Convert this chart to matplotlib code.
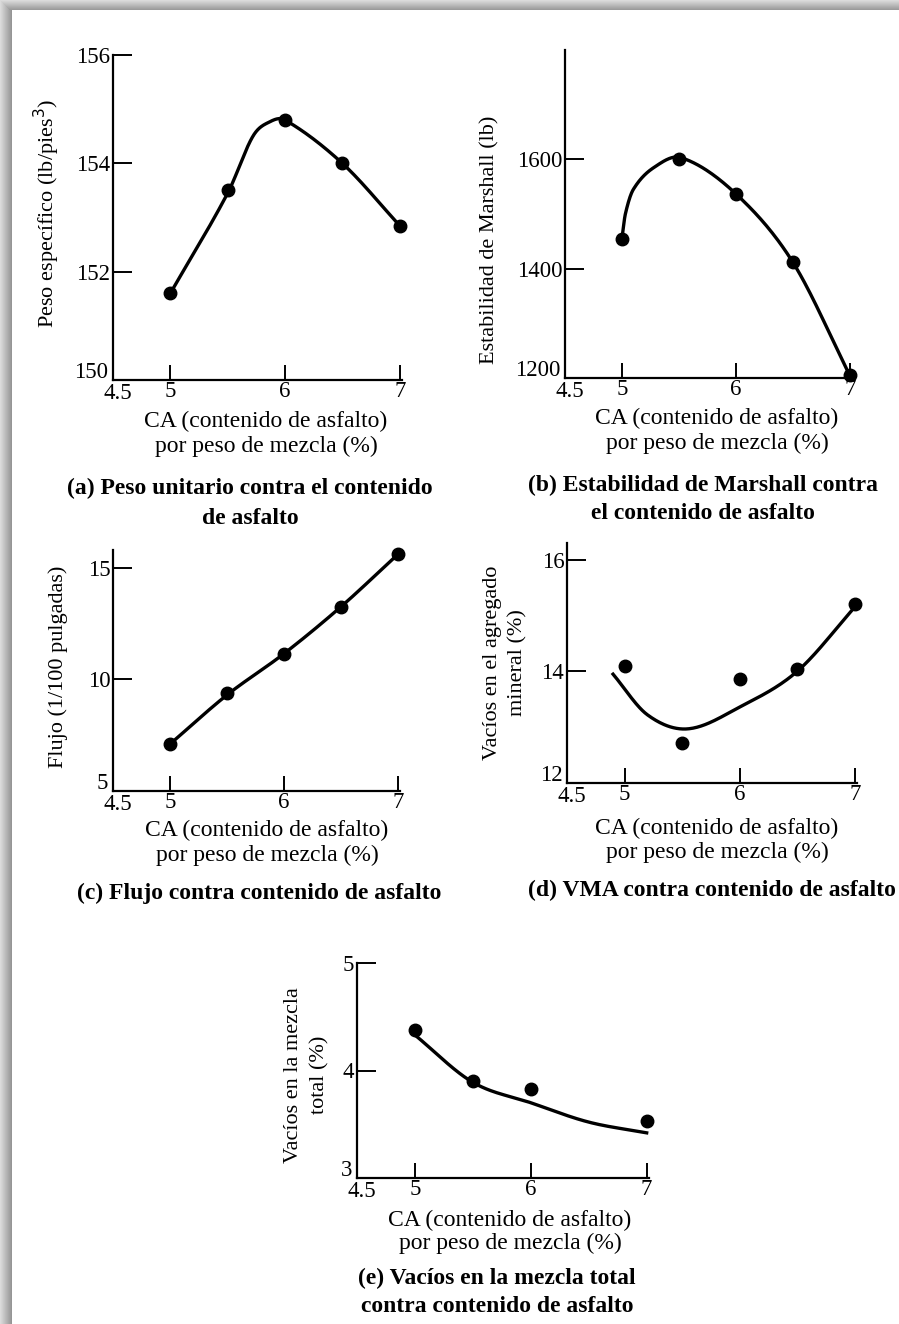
import numpy as np
import matplotlib
matplotlib.use("Agg")
import matplotlib.pyplot as plt
from matplotlib.transforms import ScaledTranslation

plt.rcParams['font.family'] = ['Liberation Serif', 'DejaVu Serif']

# --- datos
ca = [5.0, 5.5, 6.0, 6.5, 7.0]
peso = [151.6, 153.5, 154.8, 154.0, 152.85]
estab = [1455, 1600, 1537, 1412, 1205]
flujo = [7.1, 9.4, 11.15, 13.25, 15.6]
vma = [14.1, 12.72, 13.86, 14.05, 15.2]
vacios = [4.38, 3.9, 3.83, 3.53]
ca_vacios = [5.0, 5.5, 6.0, 7.0]

# puntos de la curva trazada a mano
curva_a_x = [5.0, 5.5, 5.72, 5.87, 6.0, 6.5, 7.0]
curva_a_y = [151.6, 153.45, 154.5, 154.77, 154.8, 154.0, 152.85]
curva_b_x = [5.0, 5.03, 5.1, 5.28, 5.52, 6.0, 6.5, 7.0]
curva_b_y = [1455, 1500, 1545, 1585, 1603, 1537, 1412, 1205]
curva_c_x = [5.0, 5.5, 6.0, 6.5, 7.0]
curva_c_y = [7.1, 9.3, 11.15, 13.25, 15.6]
curva_d_x = [4.9, 5.2, 5.55, 6.0, 6.5, 7.0]
curva_d_y = [13.95, 13.22, 12.97, 13.36, 14.0, 15.15]
curva_e_x = [5.0, 5.5, 6.0, 6.5, 7.0]
curva_e_y = [4.33, 3.89, 3.70, 3.52, 3.42]

xticks = [4.5, 5, 6, 7]
xtick_labels = ['4.5', '5', '6', '7']
xlab1 = 'CA (contenido de asfalto)'
xlab2 = 'por peso de mezcla (%)'


def suavizar(xs, ys, n=40):
    # hermite cubica con pendientes centradas
    xs = np.asarray(xs, float)
    ys = np.asarray(ys, float)
    m = np.zeros_like(ys)
    m[0] = (ys[1] - ys[0]) / (xs[1] - xs[0])
    m[-1] = (ys[-1] - ys[-2]) / (xs[-1] - xs[-2])
    m[1:-1] = (ys[2:] - ys[:-2]) / (xs[2:] - xs[:-2])
    ox, oy = [], []
    for i in range(len(xs) - 1):
        h = xs[i + 1] - xs[i]
        t = np.linspace(0, 1, n)
        h00 = 2 * t ** 3 - 3 * t ** 2 + 1
        h10 = t ** 3 - 2 * t ** 2 + t
        h01 = -2 * t ** 3 + 3 * t ** 2
        h11 = t ** 3 - t ** 2
        ox.append(xs[i] + t * h)
        oy.append(h00 * ys[i] + h10 * h * m[i] + h01 * ys[i + 1] + h11 * h * m[i + 1])
    return np.concatenate(ox), np.concatenate(oy)


W, H = 899, 1324
fig = plt.figure(figsize=(W / 100, H / 100), dpi=100)
fig.patch.set_facecolor('white')

# sombra gris arriba y a la izquierda
bg = fig.add_axes([0, 0, 1, 1], zorder=-5)
bg.set_xlim(0, W)
bg.set_ylim(H, 0)
bg.axis('off')
for k in range(12):
    g = 0.86 - 0.025 * k
    bg.add_patch(plt.Rectangle((k, 0), 1.2, H, color=(g, g, g), lw=0))
for k in range(10):
    g = 0.86 - 0.028 * k
    bg.add_patch(plt.Rectangle((k, k), W, 1.2, color=(g, g, g), lw=0))


def ftext(x, y, s, **kw):
    return fig.text(x / W, 1 - y / H, s, **kw)


def panel(px, ylim, yticks):
    l, t, r, b = px
    ax = fig.add_axes([l / W, 1 - b / H, (r - l) / W, (b - t) / H])
    ax.set_xlim(4.5, 7.02)
    ax.set_ylim(*ylim)
    for s in ['top', 'right']:
        ax.spines[s].set_visible(False)
    for s in ['left', 'bottom']:
        ax.spines[s].set_linewidth(1.6)
    ax.set_xticks(xticks)
    ax.set_xticklabels(xtick_labels)
    ax.set_yticks(yticks)
    ax.tick_params(axis='x', direction='in', length=11, width=1.4, labelsize=16.5, pad=1)
    ax.tick_params(axis='y', direction='in', length=14, width=1.4, labelsize=16.5, pad=2)
    # el 4.5 un poco a la derecha y el valor minimo de y un poco arriba, como en el libro
    lab45 = ax.get_xticklabels()[0]
    lab45.set_transform(lab45.get_transform() + ScaledTranslation(0.05, -0.02, fig.dpi_scale_trans))
    ylow = ax.get_yticklabels()[0]
    ylow.set_va('baseline')
    ylow.set_transform(ylow.get_transform() + ScaledTranslation(-0.02, 0.02, fig.dpi_scale_trans))
    ax.set_facecolor('none')
    return ax


def etiquetas_x(cx, y1, y2):
    ftext(cx, y1, xlab1, ha='center', va='center', fontsize=17)
    ftext(cx, y2, xlab2, ha='center', va='center', fontsize=17)


lw = 2.4
ms = 9

# (a)
ax = panel((113, 55, 402, 380), (150, 156), [150, 152, 154, 156])
cx, cy = suavizar(curva_a_x, curva_a_y)
ax.plot(cx, cy, color='black', lw=lw, clip_on=False)
ax.plot(ca, peso, 'o', color='black', ms=ms, clip_on=False)
ftext(47, 213, 'Peso específico (lb/pies$^3$)', rotation=90, ha='center', va='center', fontsize=16)
etiquetas_x(266, 421, 446)
ftext(250, 488, '(a) Peso unitario contra el contenido', ha='center', va='center',
      fontsize=17, fontweight='bold')
ftext(250, 518, 'de asfalto', ha='center', va='center', fontsize=17, fontweight='bold')

# (b)
ax = panel((565, 50, 852, 378), (1200, 1800), [1200, 1400, 1600])
cx, cy = suavizar(curva_b_x, curva_b_y)
ax.plot(cx, cy, color='black', lw=lw, clip_on=False)
ax.plot(ca, estab, 'o', color='black', ms=ms, clip_on=False)
ftext(490, 240, 'Estabilidad de Marshall (lb)', rotation=90, ha='center', va='center', fontsize=16)
etiquetas_x(717, 418, 443)
ftext(703, 485, '(b) Estabilidad de Marshall contra', ha='center', va='center',
      fontsize=17, fontweight='bold')
ftext(703, 514, 'el contenido de asfalto', ha='center', va='center',
      fontsize=17, fontweight='bold')

# (c)
ax = panel((113, 550, 400, 791), (5, 15.8), [5, 10, 15])
cx, cy = suavizar(curva_c_x, curva_c_y)
ax.plot(cx, cy, color='black', lw=lw, clip_on=False)
ax.plot(ca, flujo, 'o', color='black', ms=ms, clip_on=False)
ftext(58, 667, 'Flujo (1/100 pulgadas)', rotation=90, ha='center', va='center', fontsize=16)
etiquetas_x(267, 830, 855)
ftext(259, 893, '(c) Flujo contra contenido de asfalto', ha='center', va='center',
      fontsize=17, fontweight='bold')

# (d)
ax = panel((567, 543, 857, 783), (12, 16.3), [12, 14, 16])
cx, cy = suavizar(curva_d_x, curva_d_y)
ax.plot(cx, cy, color='black', lw=lw, clip_on=False)
ax.plot(ca, vma, 'o', color='black', ms=ms, clip_on=False)
ftext(492, 663, 'Vacíos en el agregado', rotation=90, ha='center', va='center', fontsize=16)
ftext(518, 663, 'mineral (%)', rotation=90, ha='center', va='center', fontsize=16)
etiquetas_x(717, 828, 852)
ftext(712, 890, '(d) VMA contra contenido de asfalto', ha='center', va='center',
      fontsize=17, fontweight='bold')

# (e)
ax = panel((357, 963, 649, 1178), (3, 5), [3, 4, 5])
cx, cy = suavizar(curva_e_x, curva_e_y)
ax.plot(cx, cy, color='black', lw=lw, clip_on=False)
ax.plot(ca_vacios, vacios, 'o', color='black', ms=ms, clip_on=False)
ftext(293, 1075, 'Vacíos en la mezcla', rotation=90, ha='center', va='center', fontsize=16)
ftext(320, 1075, 'total (%)', rotation=90, ha='center', va='center', fontsize=16)
etiquetas_x(510, 1220, 1243)
ftext(497, 1278, '(e) Vacíos en la mezcla total', ha='center', va='center',
      fontsize=17, fontweight='bold')
ftext(497, 1307, 'contra contenido de asfalto', ha='center', va='center',
      fontsize=17, fontweight='bold')

fig.savefig('out.png', dpi=100, facecolor=fig.get_facecolor())
